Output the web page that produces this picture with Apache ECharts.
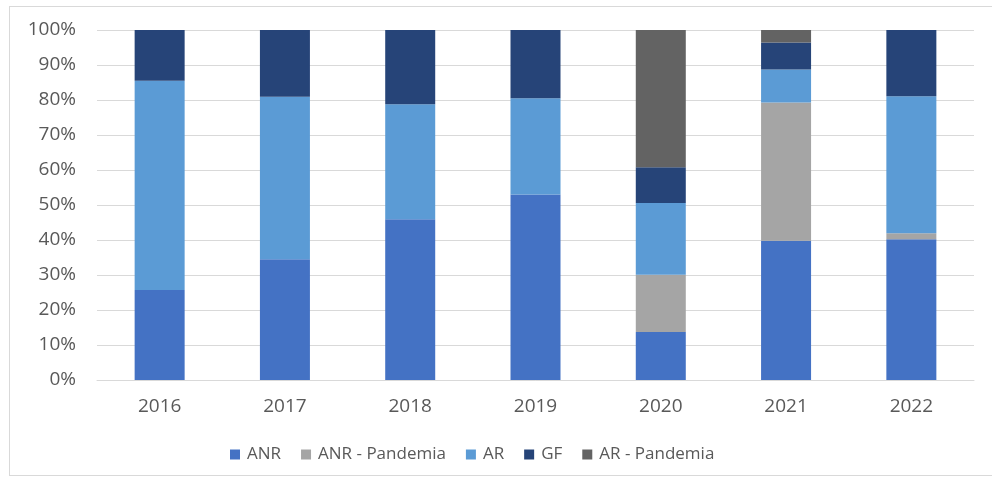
<!DOCTYPE html>
<html>
<head>
<meta charset="utf-8">
<script src="https://cdn.jsdelivr.net/npm/echarts@6/dist/echarts.min.js"></script>
<style>
  html, body { margin: 0; padding: 0; background: #fff; }
  #frame { position: absolute; left: 9px; top: 6px; width: 990px; height: 470px; border: 1px solid #d9d9d9; box-sizing: border-box; }
  #main { position: absolute; left: 0; top: 0; width: 992px; height: 479px; }
</style>
</head>
<body>
<div id="frame"></div>
<div id="main"></div>
<script>
// datos (%)
var years = ['2016', '2017', '2018', '2019', '2020', '2021', '2022'];
var anr = [25.7, 34.5, 45.9, 53.0, 13.7, 39.8, 40.2];
var anrPandemia = [0, 0, 0, 0, 16.4, 39.5, 1.7];
var ar = [59.8, 46.4, 32.9, 27.5, 20.5, 9.4, 39.2];
var gf = [14.5, 19.1, 21.2, 19.5, 10.2, 7.7, 18.9];
var arPandemia = [0, 0, 0, 0, 39.2, 3.6, 0];

var font = 'Open Sans';
var chart = echarts.init(document.getElementById('main'));

function serie(name, data, color) {
    return {
        name: name,
        type: 'bar',
        stack: 'total',
        barWidth: 50,
        data: data,
        itemStyle: { color: color },
        emphasis: { disabled: true }
    };
}

chart.setOption({
    animation: false,
    grid: { left: 97, right: 18, top: 30, bottom: 99, containLabel: false },
    legend: {
        top: 441,
        left: 225,
        icon: 'rect',
        itemWidth: 10,
        itemHeight: 10,
        itemGap: 20,
        textStyle: { fontFamily: font, fontSize: 17, color: '#595959', padding: [0, 0, 0, 2] },
        data: ['ANR', 'ANR - Pandemia', 'AR', 'GF', 'AR - Pandemia']
    },
    xAxis: {
        type: 'category',
        data: years,
        axisLine: { lineStyle: { color: '#d9d9d9', width: 1 } },
        axisTick: { show: false },
        axisLabel: { fontFamily: font, fontSize: 19, color: '#595959', margin: 17 }
    },
    yAxis: {
        type: 'value',
        min: 0,
        max: 100,
        interval: 10,
        axisLine: { show: false },
        axisTick: { show: false },
        splitLine: { lineStyle: { color: '#d9d9d9', width: 1 } },
        axisLabel: { formatter: '{value}%', fontFamily: font, fontSize: 19, color: '#595959', margin: 21 }
    },
    series: [
        serie('ANR', anr, '#4472C4'),
        serie('ANR - Pandemia', anrPandemia, '#A5A5A5'),
        serie('AR', ar, '#5B9BD5'),
        serie('GF', gf, '#264478'),
        serie('AR - Pandemia', arPandemia, '#636363')
    ]
});
</script>
</body>
</html>
